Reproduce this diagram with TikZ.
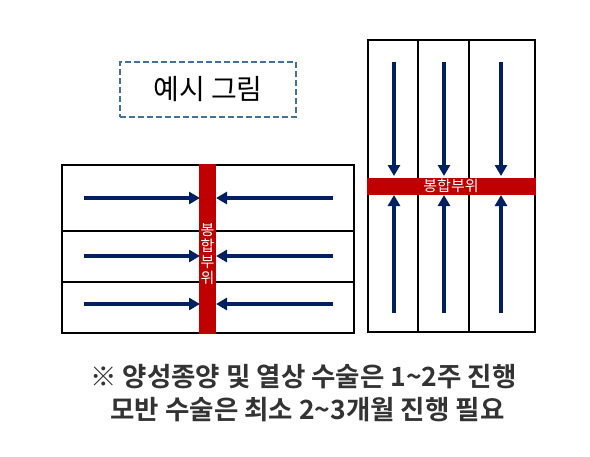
\documentclass[tikz,border=0pt]{standalone}
\usepackage{fontspec}
\newfontfamily\kr{Noto Sans CJK KR}
\newfontfamily\krb{Noto Sans CJK KR Bold}
\usetikzlibrary{arrows.meta}
\definecolor{navy}{HTML}{002060}
\definecolor{bandred}{HTML}{C00000}
\definecolor{dashblue}{HTML}{41719C}
\definecolor{notegray}{HTML}{333333}
\tikzset{
  frame/.style={draw=black, line width=2pt},
  band/.style={fill=bandred, draw=none},
  flow/.style={draw=navy, line width=3.5pt, -{Triangle[length=11pt,width=12pt]}},
  bandtxt/.style={text=white, font=\kr\fontsize{15}{17}\selectfont, inner sep=0pt},
  note/.style={text=notegray, font=\krb\fontsize{26.5}{30}\selectfont, inner sep=0pt}
}
\begin{document}
\begin{tikzpicture}[x=1pt,y=-1pt]
\useasboundingbox[fill=white] (0,0) rectangle (590,456);
% example label
\node[draw=dashblue, dash pattern=on 6pt off 3pt, line width=2pt, minimum width=176pt, minimum height=55pt, font=\kr\fontsize{28}{32}\selectfont] (ex) at (208,89.5) {예시 그림};
% left figure
\draw[frame] (62,165) rectangle (354,333);
\coordinate (ld1a) at (62,231); \coordinate (ld1b) at (354,231);
\coordinate (ld2a) at (62,282); \coordinate (ld2b) at (354,282);
\draw[frame] (ld1a) -- (ld1b);
\draw[frame] (ld2a) -- (ld2b);
\fill[band] (199,164) rectangle (216,334);
\node[bandtxt, align=center] (lb) at (207.5,254) {봉\\[-1pt]합\\[-1pt]부\\[-1pt]위};
\foreach \y/\n in {198/a,256/b,304/c}{
  \coordinate (ls\n) at (84,\y); \coordinate (le\n) at (200,\y);
  \coordinate (rs\n) at (333,\y); \coordinate (re\n) at (216,\y);
  \draw[flow] (ls\n) -- (le\n);
  \draw[flow] (rs\n) -- (re\n);
}
% right figure
\draw[frame] (368,40) rectangle (535,332);
\coordinate (rc1a) at (418,40); \coordinate (rc1b) at (418,332);
\coordinate (rc2a) at (469,40); \coordinate (rc2b) at (469,332);
\draw[frame] (rc1a) -- (rc1b);
\draw[frame] (rc2a) -- (rc2b);
\fill[band] (367,178) rectangle (536,195);
\node[bandtxt] (rb) at (451,186) {봉합부위};
\foreach \x/\n in {394/a,444/b,501/c}{
  \coordinate (ts\n) at (\x,62); \coordinate (te\n) at (\x,176);
  \coordinate (bs\n) at (\x,313); \coordinate (be\n) at (\x,195);
  \draw[flow] (ts\n) -- (te\n);
  \draw[flow] (bs\n) -- (be\n);
}
% note
\node[note] (n1) at (303.5,377) {※ 양성종양 및 열상 수술은 1\char"7E 2주 진행};
\node[note] (n2) at (307.5,410) {모반 수술은 최소 2\char"7E 3개월 진행 필요};
\end{tikzpicture}
\end{document}
